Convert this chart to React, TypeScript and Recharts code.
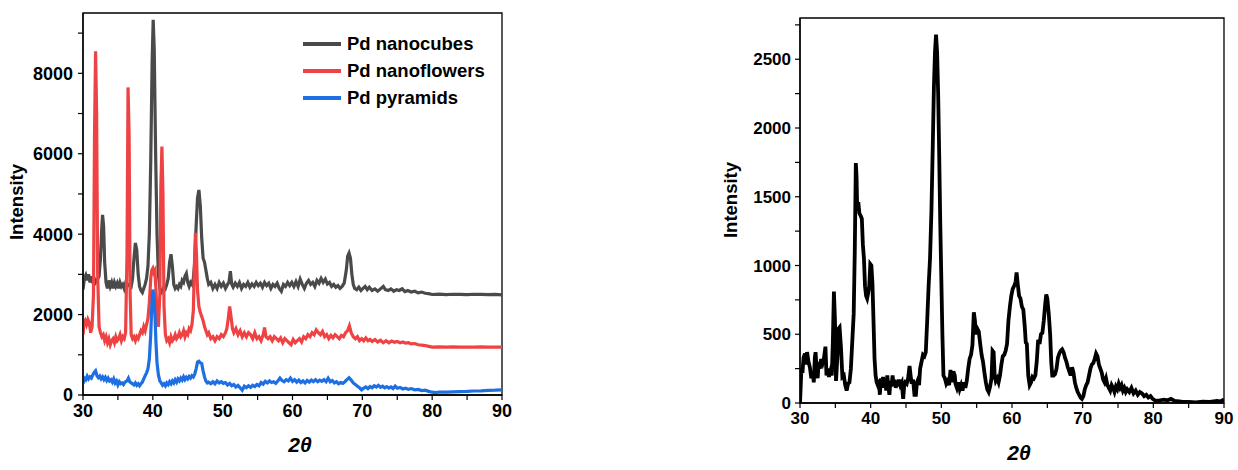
import React from 'react';
import { LineChart, Line, XAxis, YAxis, ReferenceArea, Legend } from 'recharts';

// ---------- Left chart data: 2θ (deg) vs intensity ----------
const nanocubes: [number, number][] = [
  [30,2620],[30.2,2900],[30.4,2980],[30.6,2850],[30.8,3000],[31.0,2800],[31.2,2950],[31.4,2780],[31.6,2900],[31.8,2800],[32.0,2850],[32.3,2950],[32.5,3400],[32.7,4200],[32.8,4480],[32.95,4200],[33.1,3300],[33.3,2800],[33.5,2650],[33.7,2850],[33.9,2700],[34.1,2800],[34.3,2650],[34.5,2800],[34.7,2700],[34.9,2780],[35.1,2650],[35.3,2800],[35.5,2700],[35.7,2750],[35.9,2650],[36.1,2780],[36.3,2700],[36.6,2750],[36.9,2700],[37.1,2900],[37.3,3400],[37.5,3780],[37.7,3600],[37.9,3000],[38.1,2700],[38.3,2600],[38.5,2550],[38.7,2650],[38.9,2750],[39.1,2900],[39.3,3200],[39.5,4000],[39.7,5800],[39.9,8300],[40.05,9330],[40.2,8600],[40.4,6000],[40.6,4000],[40.8,3000],[41.0,2650],[41.2,2550],[41.4,2600],[41.6,2700],[41.8,2650],[42.0,2750],[42.2,2900],[42.4,3300],[42.6,3500],[42.8,3200],[43.0,2750],[43.2,2650],[43.4,2700],[43.6,2650],[43.8,2750],[44.0,2700],[44.2,2850],[44.4,2800],[44.6,2950],[44.8,3020],[45.0,2800],[45.2,2700],[45.4,2800],[45.6,2750],[45.8,2900],[46.0,3300],[46.2,4200],[46.4,4900],[46.6,5100],[46.8,4700],[47.0,3900],[47.2,3400],[47.4,3300],[47.6,3100],[47.8,2900],[48.0,2750],[48.3,2800],[48.6,2650],[48.9,2750],[49.2,2650],[49.5,2800],[49.8,2700],[50.1,2780],[50.4,2650],[50.7,2750],[50.9,2800],[51.1,3080],[51.3,2750],[51.5,2680],[51.8,2780],[52.1,2700],[52.4,2800],[52.7,2650],[53.0,2750],[53.3,2700],[53.6,2800],[53.9,2680],[54.2,2760],[54.5,2700],[54.8,2800],[55.1,2720],[55.4,2780],[55.7,2680],[56.0,2800],[56.3,2720],[56.6,2780],[56.9,2650],[57.2,2750],[57.5,2700],[57.8,2780],[58.1,2650],[58.4,2580],[58.7,2750],[59.0,2700],[59.3,2800],[59.6,2720],[59.9,2800],[60.2,2700],[60.5,2820],[60.8,2700],[61.1,2880],[61.4,2750],[61.7,2650],[62.0,2780],[62.3,2850],[62.6,2750],[62.9,2800],[63.2,2700],[63.5,2850],[63.8,2780],[64.1,2900],[64.4,2800],[64.7,2880],[65.0,2760],[65.3,2800],[65.6,2700],[65.9,2750],[66.2,2680],[66.5,2720],[66.8,2650],[67.1,2700],[67.4,2780],[67.7,3100],[67.9,3450],[68.1,3530],[68.3,3400],[68.5,3000],[68.7,2750],[68.9,2650],[69.2,2620],[69.5,2680],[69.8,2600],[70.1,2650],[70.4,2700],[70.7,2620],[71.0,2680],[71.4,2600],[71.8,2640],[72.2,2580],[72.6,2640],[73.0,2700],[73.3,2620],[73.7,2600],[74.1,2640],[74.5,2580],[74.9,2620],[75.3,2600],[75.7,2640],[76.1,2570],[76.5,2600],[77.0,2560],[77.5,2580],[78.0,2540],[78.5,2560],[79.0,2530],[79.5,2520],[80.0,2500],[81,2510],[82,2495],[83,2505],[84,2500],[85,2495],[86,2505],[87,2500],[88,2495],[89,2500],[90,2490],
];

const nanoflowers: [number, number][] = [
  [30,1500],[30.15,1800],[30.3,1850],[30.5,1750],[30.7,1880],[30.9,1800],[31.1,1550],[31.3,1700],[31.5,2500],[31.65,6500],[31.8,8550],[31.95,7000],[32.1,3000],[32.3,1700],[32.5,1550],[32.7,1450],[32.9,1500],[33.1,1350],[33.3,1450],[33.5,1300],[33.7,1400],[33.9,1250],[34.1,1350],[34.3,1400],[34.5,1300],[34.7,1450],[34.9,1350],[35.1,1400],[35.3,1500],[35.5,1350],[35.7,1450],[35.9,1400],[36.1,1550],[36.3,3500],[36.45,7650],[36.6,6500],[36.75,2500],[36.9,1500],[37.1,1400],[37.3,1450],[37.5,1350],[37.7,1450],[37.9,1400],[38.1,1500],[38.3,1600],[38.5,1550],[38.7,1700],[38.9,1600],[39.1,1750],[39.3,1900],[39.5,2300],[39.7,2900],[39.85,3100],[40.0,3150],[40.15,3050],[40.3,3100],[40.45,2600],[40.6,1900],[40.8,1700],[41.0,2500],[41.15,5200],[41.3,6180],[41.45,5000],[41.6,2200],[41.8,1500],[42.0,1350],[42.2,1400],[42.4,1300],[42.6,1450],[42.8,1350],[43.0,1400],[43.2,1500],[43.4,1400],[43.6,1450],[43.8,1550],[44.0,1450],[44.2,1500],[44.4,1600],[44.6,1450],[44.8,1550],[45.0,1500],[45.2,1650],[45.4,1600],[45.6,1750],[45.8,2100],[45.95,3200],[46.1,4030],[46.25,3500],[46.4,2600],[46.6,2200],[46.8,2050],[47.0,1950],[47.2,1850],[47.4,1700],[47.6,1600],[47.8,1500],[48.0,1550],[48.3,1400],[48.6,1450],[48.9,1350],[49.2,1450],[49.5,1400],[49.8,1500],[50.1,1450],[50.4,1550],[50.6,1650],[50.8,1900],[51.0,2200],[51.2,1950],[51.4,1650],[51.6,1550],[51.9,1650],[52.2,1500],[52.5,1600],[52.8,1450],[53.1,1550],[53.4,1450],[53.7,1550],[54.0,1500],[54.3,1400],[54.6,1550],[54.9,1400],[55.2,1450],[55.5,1350],[55.8,1500],[56.0,1680],[56.2,1450],[56.5,1400],[56.8,1450],[57.1,1350],[57.4,1450],[57.7,1400],[58.0,1350],[58.3,1420],[58.6,1300],[58.9,1400],[59.2,1350],[59.5,1300],[59.8,1250],[60.1,1380],[60.4,1300],[60.7,1350],[61.0,1400],[61.3,1320],[61.6,1450],[61.9,1400],[62.2,1500],[62.5,1450],[62.8,1550],[63.1,1500],[63.4,1620],[63.7,1550],[64.0,1500],[64.3,1580],[64.6,1450],[64.9,1500],[65.2,1400],[65.5,1480],[65.8,1420],[66.1,1500],[66.4,1450],[66.7,1400],[67.0,1480],[67.3,1450],[67.6,1550],[67.9,1600],[68.15,1720],[68.4,1550],[68.7,1450],[69.0,1400],[69.3,1450],[69.6,1350],[69.9,1400],[70.2,1350],[70.5,1420],[70.8,1350],[71.1,1380],[71.4,1330],[71.8,1380],[72.2,1320],[72.6,1360],[73.0,1300],[73.4,1350],[73.8,1300],[74.2,1340],[74.6,1310],[75.0,1330],[75.4,1300],[75.8,1320],[76.2,1290],[76.6,1300],[77.0,1270],[77.5,1280],[78.0,1250],[78.5,1240],[79.0,1230],[79.5,1210],[80.0,1190],[81,1195],[82,1190],[83,1195],[84,1190],[85,1192],[86,1190],[87,1195],[88,1190],[89,1192],[90,1190],
];

const pyramids: [number, number][] = [
  [30,280],[30.2,420],[30.4,380],[30.6,470],[30.8,400],[31.0,450],[31.2,420],[31.4,500],[31.6,560],[31.8,600],[32.0,480],[32.2,430],[32.4,470],[32.6,400],[32.8,450],[33.0,380],[33.2,440],[33.4,360],[33.6,420],[33.8,350],[34.0,380],[34.2,320],[34.4,400],[34.6,300],[34.8,350],[35.0,250],[35.2,330],[35.4,280],[35.6,300],[35.8,260],[36.0,320],[36.3,350],[36.5,420],[36.7,330],[36.9,300],[37.1,280],[37.3,250],[37.5,300],[37.7,240],[37.9,280],[38.1,230],[38.3,280],[38.5,320],[38.7,400],[38.9,480],[39.1,550],[39.3,650],[39.5,900],[39.7,1500],[39.85,2200],[40.0,2620],[40.15,2500],[40.3,2000],[40.45,1300],[40.6,800],[40.8,500],[41.0,350],[41.2,300],[41.4,240],[41.6,280],[41.8,230],[42.0,300],[42.2,260],[42.4,330],[42.6,280],[42.8,350],[43.0,300],[43.2,380],[43.4,320],[43.6,400],[43.8,350],[44.0,420],[44.2,370],[44.4,450],[44.6,380],[44.8,440],[45.0,400],[45.2,460],[45.4,420],[45.6,480],[45.8,450],[46.0,520],[46.2,650],[46.4,820],[46.6,840],[46.8,800],[47.0,780],[47.2,600],[47.4,450],[47.6,350],[47.8,300],[48.0,320],[48.3,280],[48.6,330],[48.9,280],[49.2,350],[49.5,300],[49.8,330],[50.1,290],[50.4,310],[50.7,250],[51.0,290],[51.3,230],[51.6,260],[51.9,200],[52.2,240],[52.5,180],[52.8,120],[53.1,220],[53.4,180],[53.7,230],[54.0,190],[54.3,240],[54.6,210],[54.9,260],[55.2,230],[55.5,310],[55.8,270],[56.1,340],[56.4,300],[56.7,350],[57.0,310],[57.3,330],[57.6,290],[57.9,350],[58.2,420],[58.5,360],[58.8,330],[59.1,380],[59.4,350],[59.7,420],[60.0,340],[60.3,380],[60.6,320],[60.9,370],[61.2,310],[61.5,350],[61.8,300],[62.1,360],[62.4,320],[62.7,370],[63.0,330],[63.3,380],[63.6,330],[63.9,370],[64.2,340],[64.5,380],[64.8,330],[65.1,420],[65.4,330],[65.7,360],[66.0,300],[66.3,330],[66.6,280],[66.9,310],[67.2,290],[67.5,330],[67.8,380],[68.1,430],[68.4,370],[68.7,300],[69.0,260],[69.3,220],[69.6,180],[69.9,130],[70.2,170],[70.5,200],[70.8,160],[71.1,210],[71.4,180],[71.7,230],[72.0,200],[72.3,240],[72.6,190],[72.9,220],[73.2,180],[73.5,210],[73.8,170],[74.1,200],[74.4,160],[74.7,220],[75.0,170],[75.4,190],[75.8,150],[76.2,170],[76.6,140],[77.0,160],[77.5,130],[78.0,140],[78.5,110],[79.0,120],[79.5,90],[80.0,70],[80.5,60],[81,75],[82,70],[83,80],[84,85],[85,90],[86,100],[87,105],[88,115],[89,120],[90,130],
];

// ---------- Right chart data ----------
const sample: [number, number][] = [
  [30,0],[30.1,120],[30.2,250],[30.35,220],[30.5,330],[30.7,360],[30.85,280],[31.0,370],[31.2,300],[31.4,260],[31.6,180],[31.8,230],[31.95,150],[32.1,330],[32.2,370],[32.35,250],[32.5,180],[32.65,300],[32.8,250],[33.0,320],[33.2,290],[33.4,330],[33.6,410],[33.75,200],[33.9,250],[34.1,190],[34.3,230],[34.5,200],[34.65,450],[34.8,810],[34.95,600],[35.1,160],[35.25,300],[35.45,540],[35.6,550],[35.8,400],[36.0,190],[36.2,200],[36.4,130],[36.6,90],[36.8,140],[37.0,150],[37.2,250],[37.4,450],[37.6,650],[37.75,1100],[37.9,1745],[38.0,1650],[38.1,1400],[38.25,1460],[38.4,1380],[38.6,1360],[38.75,1340],[38.9,1150],[39.05,1050],[39.2,850],[39.35,780],[39.5,760],[39.65,800],[39.8,850],[39.95,1010],[40.1,1000],[40.25,870],[40.4,600],[40.55,320],[40.7,200],[40.85,150],[41.0,130],[41.15,170],[41.3,60],[41.45,180],[41.6,110],[41.75,190],[41.9,120],[42.05,170],[42.2,90],[42.35,200],[42.5,120],[42.65,60],[42.8,160],[42.95,120],[43.1,200],[43.25,130],[43.4,170],[43.55,110],[43.7,160],[43.85,120],[44.0,170],[44.2,130],[44.4,150],[44.6,30],[44.75,130],[44.9,150],[45.1,140],[45.3,180],[45.5,270],[45.65,200],[45.8,140],[46.0,170],[46.2,60],[46.4,60],[46.55,150],[46.7,170],[46.85,130],[47.0,250],[47.2,300],[47.4,350],[47.6,340],[47.8,370],[48.0,600],[48.2,850],[48.4,1050],[48.6,1400],[48.8,1900],[48.95,2300],[49.1,2550],[49.25,2680],[49.4,2550],[49.55,2250],[49.7,1800],[49.85,1300],[50.0,900],[50.15,500],[50.3,200],[50.5,180],[50.7,140],[50.9,160],[51.1,130],[51.3,240],[51.5,150],[51.7,230],[51.9,200],[52.0,140],[52.2,110],[52.4,150],[52.6,100],[52.8,130],[53.0,90],[53.2,150],[53.4,110],[53.6,160],[53.8,250],[54.0,320],[54.2,350],[54.4,420],[54.6,660],[54.75,600],[54.9,500],[55.1,540],[55.3,520],[55.5,430],[55.7,350],[55.9,300],[56.1,220],[56.3,150],[56.5,100],[56.7,80],[56.9,120],[57.1,180],[57.25,380],[57.4,370],[57.55,200],[57.7,160],[57.9,180],[58.1,150],[58.3,200],[58.5,280],[58.7,340],[58.9,350],[59.1,380],[59.3,430],[59.5,600],[59.7,700],[59.9,780],[60.1,830],[60.3,850],[60.5,880],[60.65,950],[60.8,870],[61.0,780],[61.2,760],[61.4,700],[61.6,680],[61.8,560],[61.95,440],[62.1,430],[62.3,200],[62.5,130],[62.7,150],[62.9,190],[63.1,180],[63.3,200],[63.5,300],[63.7,460],[63.9,430],[64.1,500],[64.3,510],[64.5,600],[64.7,720],[64.85,790],[65.0,760],[65.2,650],[65.4,500],[65.55,300],[65.7,200],[65.9,200],[66.1,210],[66.3,250],[66.5,330],[66.7,360],[66.9,380],[67.1,390],[67.3,370],[67.5,330],[67.7,300],[67.9,260],[68.1,230],[68.3,200],[68.5,260],[68.7,220],[68.9,150],[69.1,110],[69.3,80],[69.5,60],[69.7,40],[69.9,30],[70.1,50],[70.3,100],[70.5,130],[70.7,150],[70.9,200],[71.1,250],[71.3,280],[71.5,290],[71.7,320],[71.9,360],[72.1,340],[72.3,280],[72.5,250],[72.7,220],[72.9,170],[73.1,150],[73.3,180],[73.5,130],[73.7,110],[73.9,90],[74.1,130],[74.3,110],[74.5,80],[74.7,120],[74.9,100],[75.1,140],[75.3,110],[75.5,130],[75.7,90],[75.9,110],[76.1,80],[76.3,100],[76.6,80],[76.9,110],[77.2,70],[77.5,90],[77.8,60],[78.1,80],[78.4,70],[78.7,50],[79.0,60],[79.3,40],[79.6,50],[79.9,30],[80.2,20],[80.6,15],[81.0,20],[81.5,25],[82.0,20],[82.5,30],[83,15],[84,10],[85,8],[86,5],[87,10],[88,8],[89,15],[89.5,12],[90,25],
];

const xTicks = [30, 35, 40, 45, 50, 55, 60, 65, 70, 75, 80, 85, 90];
const xLabelTicks = [30, 40, 50, 60, 70, 80, 90];
const leftYTicks = [0, 1000, 2000, 3000, 4000, 5000, 6000, 7000, 8000, 9000];
const leftYLabelTicks = [0, 2000, 4000, 6000, 8000];
const rightYTicks = [0, 250, 500, 750, 1000, 1250, 1500, 1750, 2000, 2250, 2500, 2750];
const rightYLabelTicks = [0, 500, 1000, 1500, 2000, 2500];

const seriesNames = ['Pd nanocubes', 'Pd nanoflowers', 'Pd pyramids'];
const seriesColors = ['#4a4a4a', '#ef4242', '#1d6fe2'];

const toRows = (pairs: [number, number][]) => pairs.map(([x, y]) => ({ x, y }));

const FONT = '"Liberation Sans", Arial, Helvetica, sans-serif';

const LegendBox = (props: any) => {
  const payload = props.payload || [];
  return (
    <div style={{ fontFamily: FONT }}>
      {payload.map((p: any) => (
        <div key={p.value} style={{ display: 'flex', alignItems: 'center', height: 27 }}>
          <span style={{ display: 'inline-block', width: 38, height: 4, background: p.color, marginRight: 6 }} />
          <span style={{ fontSize: 18.5, fontWeight: 'bold', color: '#000', lineHeight: '27px' }}>{p.value}</span>
        </div>
      ))}
    </div>
  );
};

const titleStyle: React.CSSProperties = {
  position: 'absolute',
  fontFamily: FONT,
  fontWeight: 'bold',
  color: '#000',
  whiteSpace: 'nowrap',
};

export default function App() {
  const series = [nanocubes, nanoflowers, pyramids];
  const axisLine = { stroke: '#000', strokeWidth: 1.3 };
  return (
    <div style={{ position: 'absolute', left: 0, top: 0, width: 1238, height: 470, background: '#fff' }}>
      {/* Left chart */}
      <div style={{ position: 'absolute', left: 0, top: 0 }}>
        <LineChart width={520} height={470} margin={{ top: 13, right: 18, bottom: 0, left: 0 }}>
          <XAxis
            type="number"
            dataKey="x"
            domain={[30, 90]}
            ticks={xTicks}
            allowDataOverflow
            height={75}
            tickSize={5}
            tickMargin={4}
            axisLine={axisLine}
            tickLine={{ stroke: '#000', strokeWidth: 1.2 }}
            tick={{ fill: '#000', fontSize: 18, fontWeight: 'bold', fontFamily: FONT }}
            tickFormatter={(v: number) => (xLabelTicks.includes(v) ? String(v) : '')}
          />
          <YAxis
            type="number"
            domain={[0, 9500]}
            ticks={leftYTicks}
            allowDataOverflow
            width={83}
            tickSize={5}
            tickMargin={5}
            axisLine={axisLine}
            tickLine={{ stroke: '#000', strokeWidth: 1.2 }}
            tick={{ fill: '#000', fontSize: 18, fontWeight: 'bold', fontFamily: FONT }}
            tickFormatter={(v: number) => (leftYLabelTicks.includes(v) ? String(v) : '')}
          />
          <ReferenceArea x1={30} x2={90} y1={0} y2={9500} fill="none" stroke="#000" strokeWidth={1.3} ifOverflow="visible" />
          {series.map((s, i) => (
            <Line
              key={seriesNames[i]}
              data={toRows(s)}
              dataKey="y"
              name={seriesNames[i]}
              type="linear"
              stroke={seriesColors[i]}
              strokeWidth={3.2}
              dot={false}
              activeDot={false}
              isAnimationActive={false}
            />
          ))}
          <Legend
            layout="vertical"
            verticalAlign="middle"
            align="center"
            content={<LegendBox />}
            wrapperStyle={{ left: 303, top: 30, width: 210 }}
          />
        </LineChart>
      </div>
      <div style={{ ...titleStyle, left: 17, top: 202, fontSize: 18.5, transform: 'translate(-50%, -50%) rotate(-90deg)' }}>Intensity</div>
      <div style={{ ...titleStyle, left: 300, top: 445, fontSize: 21, fontStyle: 'italic', transform: 'translate(-50%, -50%)' }}>2θ</div>

      {/* Right chart */}
      <div style={{ position: 'absolute', left: 698, top: 0 }}>
        <LineChart width={540} height={470} margin={{ top: 18, right: 14, bottom: 0, left: 0 }}>
          <XAxis
            type="number"
            dataKey="x"
            domain={[30, 90]}
            ticks={xTicks}
            allowDataOverflow
            height={67}
            tickSize={5}
            tickMargin={4}
            axisLine={axisLine}
            tickLine={{ stroke: '#000', strokeWidth: 1.2 }}
            tick={{ fill: '#000', fontSize: 17, fontWeight: 'bold', fontFamily: FONT }}
            tickFormatter={(v: number) => (xLabelTicks.includes(v) ? String(v) : '')}
          />
          <YAxis
            type="number"
            domain={[0, 2800]}
            ticks={rightYTicks}
            allowDataOverflow
            width={102}
            tickSize={5}
            tickMargin={4}
            axisLine={axisLine}
            tickLine={{ stroke: '#000', strokeWidth: 1.2 }}
            tick={{ fill: '#000', fontSize: 17, fontWeight: 'bold', fontFamily: FONT }}
            tickFormatter={(v: number) => (rightYLabelTicks.includes(v) ? String(v) : '')}
          />
          <ReferenceArea x1={30} x2={90} y1={0} y2={2800} fill="none" stroke="#000" strokeWidth={1.3} ifOverflow="visible" />
          <Line
            data={toRows(sample)}
            dataKey="y"
            type="linear"
            stroke="#000"
            strokeWidth={3.8}
            dot={false}
            activeDot={false}
            isAnimationActive={false}
          />
        </LineChart>
      </div>
      <div style={{ ...titleStyle, left: 731, top: 200, fontSize: 18.5, transform: 'translate(-50%, -50%) rotate(-90deg)' }}>Intensity</div>
      <div style={{ ...titleStyle, left: 1019, top: 453, fontSize: 21, fontStyle: 'italic', transform: 'translate(-50%, -50%)' }}>2θ</div>
    </div>
  );
}
